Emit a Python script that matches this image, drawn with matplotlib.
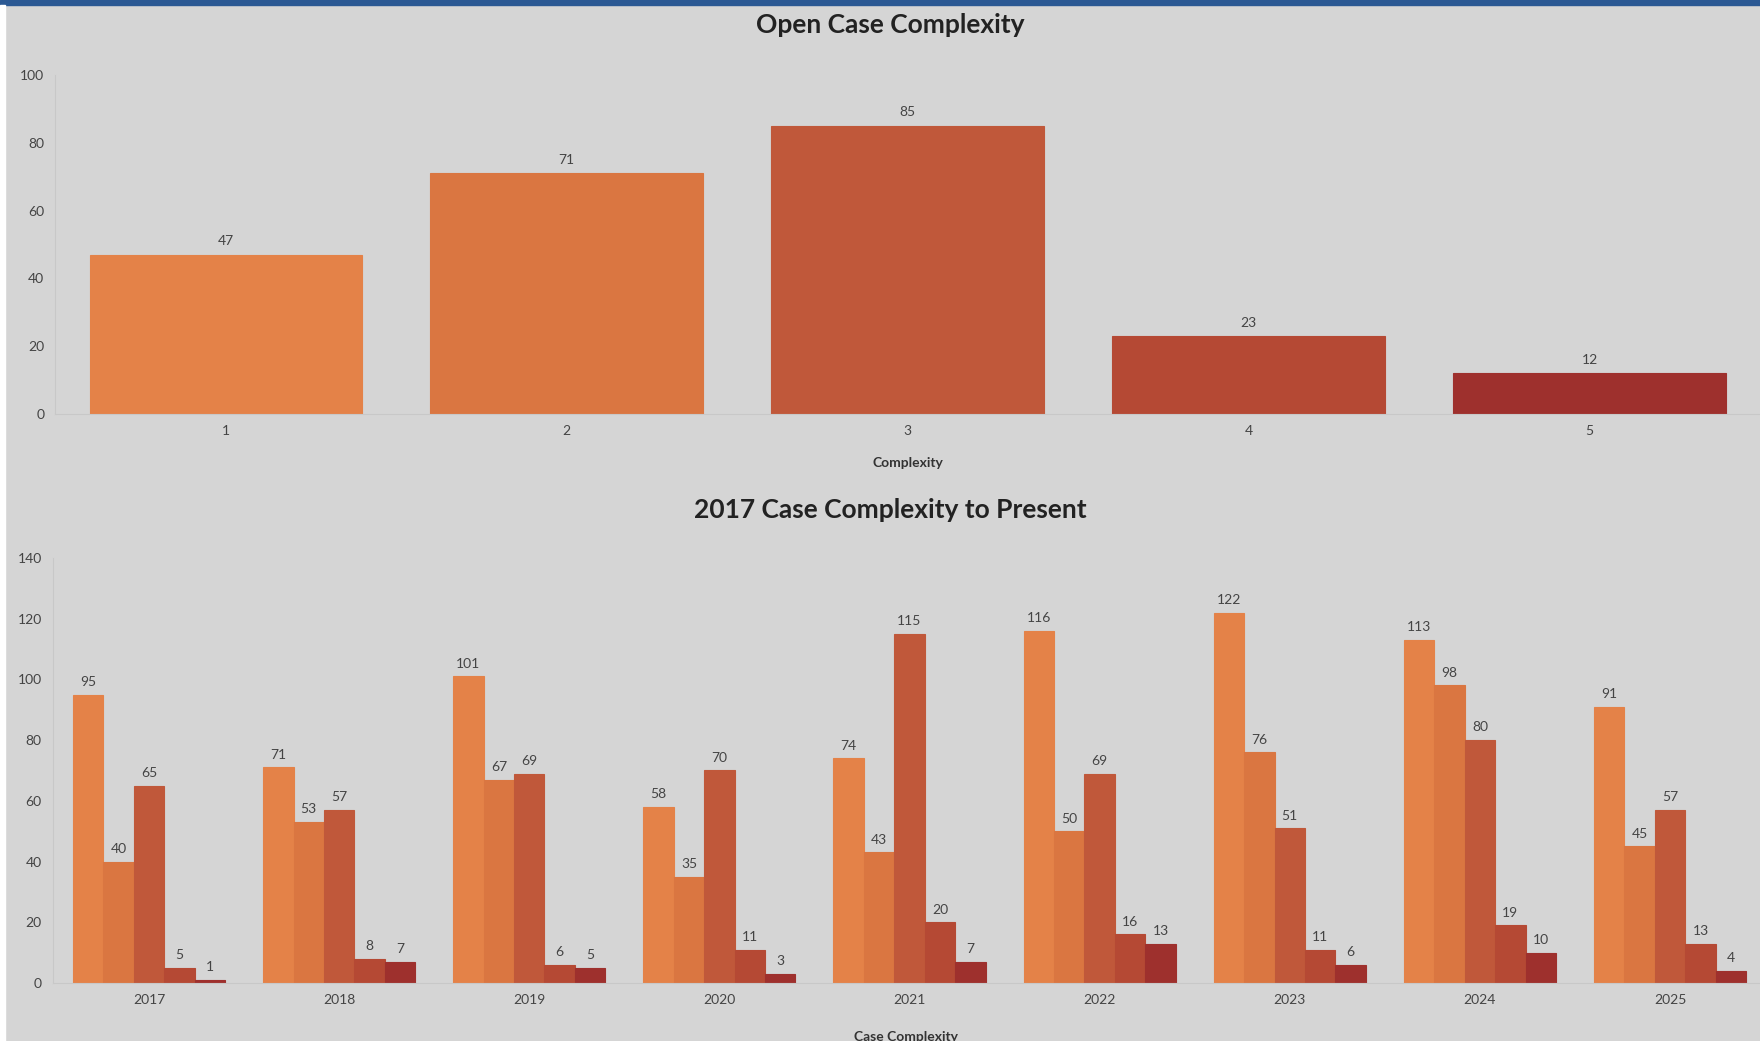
import matplotlib.pyplot as plt
from matplotlib.patches import Rectangle

# Data
complexity = ['1', '2', '3', '4', '5']
open_cases = [47, 71, 85, 23, 12]

years = ['2017', '2018', '2019', '2020', '2021', '2022', '2023', '2024', '2025']
level1 = [95, 71, 101, 58, 74, 116, 122, 113, 91]
level2 = [40, 53, 67, 35, 43, 50, 76, 98, 45]
level3 = [65, 57, 69, 70, 115, 69, 51, 80, 57]
level4 = [5, 8, 6, 11, 20, 16, 11, 19, 13]
level5 = [1, 7, 5, 3, 7, 13, 6, 10, 4]

colors = ['#E48248', '#DA7641', '#C0583A', '#B54934', '#9E302D']
bg = '#D5D5D5'
txt = '#444444'

plt.rcParams['font.family'] = ['Lato', 'DejaVu Sans']

fig = plt.figure(figsize=(17.6, 10.41), dpi=100, facecolor=bg)

# blue band at top and white strip at left
fig.patches.append(Rectangle((0, 1 - 5 / 1041), 1, 5 / 1041, transform=fig.transFigure,
                             color='#2B5893', zorder=0))
fig.patches.append(Rectangle((0, 0), 5 / 1760, 1 - 5 / 1041, transform=fig.transFigure,
                             color='white', zorder=0))


def style(ax):
    ax.set_facecolor(bg)
    for s in ['top', 'right']:
        ax.spines[s].set_visible(False)
    for s in ['left', 'bottom']:
        ax.spines[s].set_color('#C8C8C8')
        ax.spines[s].set_linewidth(0.8)
    ax.tick_params(length=0, labelsize=10, colors=txt, pad=8)


# Top chart
ax1 = fig.add_axes([0.0315, 0.6023, 0.9685, 0.3257])
style(ax1)
x1 = range(len(complexity))
bars = ax1.bar(x1, open_cases, width=0.8, color=colors, edgecolor=colors, linewidth=0.8)
for b, v in zip(bars, open_cases):
    ax1.text(b.get_x() + b.get_width() / 2, v + 2.2, str(v), ha='center', va='bottom',
             fontsize=10, color=txt)
ax1.set_xlim(-0.5, 4.5)
ax1.set_ylim(0, 100)
ax1.set_yticks(range(0, 101, 20))
ax1.set_xticks(list(x1))
ax1.set_xticklabels(complexity)
ax1.set_xlabel('Complexity', fontsize=10, fontweight='bold', color='#333333', labelpad=14)
fig.text(0.506, 0.976, 'Open Case Complexity', ha='center', va='center',
         fontsize=19, fontweight='bold', color='#222222')

# Bottom chart
ax2 = fig.add_axes([0.030, 0.0557, 0.970, 0.4083])
style(ax2)
series = [level1, level2, level3, level4, level5]
w = 0.16
for i, vals in enumerate(series):
    xs = [j + (i - 2) * w for j in range(len(years))]
    bb = ax2.bar(xs, vals, width=w, color=colors[i], edgecolor=colors[i], linewidth=0.8)
    for b, v in zip(bb, vals):
        ax2.text(b.get_x() + b.get_width() / 2, v + 2.2, str(v), ha='center', va='bottom',
                 fontsize=10, color=txt)
ax2.set_xlim(-0.506, 8.473)
ax2.set_ylim(0, 140)
ax2.set_yticks(range(0, 141, 20))
ax2.set_xticks(range(len(years)))
ax2.set_xticklabels(years)
ax2.set_xlabel('Case Complexity', fontsize=10, fontweight='bold', color='#333333', labelpad=18)
fig.text(0.506, 0.5105, '2017 Case Complexity to Present', ha='center', va='center',
         fontsize=19, fontweight='bold', color='#222222')

fig.savefig('out.png', dpi=100, facecolor=bg)
